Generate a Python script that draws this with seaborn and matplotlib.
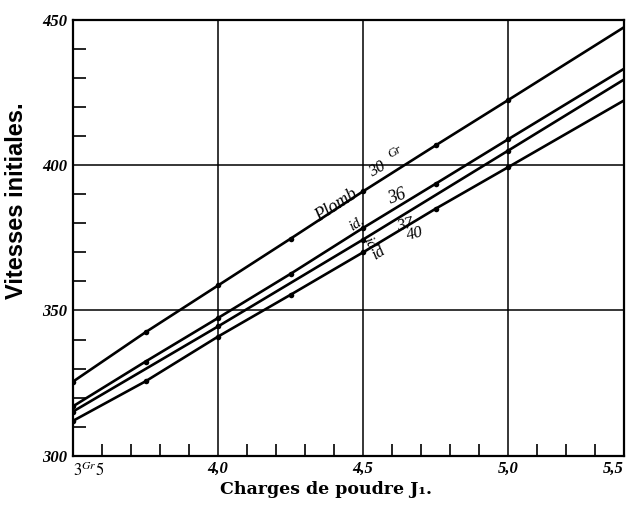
import numpy as np
import pandas as pd
import seaborn as sns
import matplotlib.pyplot as plt
from matplotlib.ticker import FixedLocator

# charges de poudre (x) et vitesses initiales
x_points = [3.5, 3.75, 4.0, 4.25, 4.5, 4.75, 5.0]
x_points_37 = [3.5, 4.0, 4.5, 5.0]
x_bord = 5.4  # le cadre s'arrete ici (graduation marquee 5,5)

v_30 = [325.5, 342.5, 358.6, 374.7, 391.0, 406.8, 422.4]
v_36 = [317.0, 332.4, 347.4, 362.6, 378.4, 393.6, 408.9]
v_37 = [315.2, 344.5, 374.4, 405.0]
v_40 = [312.0, 325.6, 341.0, 355.4, 370.0, 385.0, 399.3]
series = ["30", "36", "37", "40"]
v_bord = [447.5, 433.2, 429.5, 422.3]

x_ticks = [3.5, 4.0, 4.5, 5.0, 5.4]
x_labels = [r"$\mathit{3^{Gr}5}$", "4,0", "4,5", "5,0", "5,5"]
y_ticks = [300, 350, 400, 450]
y_labels = ["300", "350", "400", "450"]

lignes, points = [], []
for s, xs, vs, vb in zip(series, [x_points, x_points, x_points_37, x_points],
                         [v_30, v_36, v_37, v_40], v_bord):
    points.append(pd.DataFrame({"charge": xs, "vitesse": vs, "serie": s}))
    lignes.append(pd.DataFrame({"charge": xs + [x_bord], "vitesse": vs + [vb], "serie": s}))
df_lignes = pd.concat(lignes, ignore_index=True)
df_points = pd.concat(points, ignore_index=True)

sns.set_style("white")
plt.rcParams["mathtext.fontset"] = "stix"
plt.rcParams["text.color"] = "black"

fig = plt.figure(figsize=(6.38, 5.05), dpi=100)
ax = fig.add_axes([73 / 638, 1 - 455.7 / 505, 551 / 638, 435.7 / 505])

sns.lineplot(data=df_lignes, x="charge", y="vitesse", hue="serie", palette=["black"] * 4,
             linewidth=1.9, estimator=None, legend=False, ax=ax)
sns.scatterplot(data=df_points, x="charge", y="vitesse", color="black", s=16,
                linewidth=0, legend=False, ax=ax)

ax.set_xlim(3.5, x_bord)
ax.set_ylim(300, 450)
ax.set_xlabel("")
ax.set_ylabel("")

for sp in ax.spines.values():
    sp.set_color("black")
    sp.set_linewidth(1.6)

tick_font = dict(family="Liberation Serif", style="italic", weight="bold", size=12)
ax.set_xticks(x_ticks)
ax.set_xticklabels(x_labels, **tick_font)
ax.set_yticks(y_ticks)
ax.set_yticklabels(y_labels, **tick_font)
ax.tick_params(which="major", length=0, pad=4, colors="black")
ax.grid(True, color="black", linewidth=1.1)

x_minor = [round(3.5 + 0.1 * i, 1) for i in range(1, 19)]
x_minor = [v for v in x_minor if v not in (4.0, 4.5, 5.0)]
y_minor = [v for v in range(310, 450, 10) if v not in (350, 400)]
ax.xaxis.set_minor_locator(FixedLocator(x_minor))
ax.yaxis.set_minor_locator(FixedLocator(y_minor))
ax.tick_params(which="minor", direction="in", length=9, width=1.2, color="black",
               bottom=True, left=True)

ax.get_xticklabels()[0].set_ha("left")
ax.get_xticklabels()[-1].set_ha("right")

# etiquettes des courbes
txt = dict(family="Liberation Serif", style="italic", color="black", ha="center", va="center")
ax.text(4.407, 386.0, "Plomb", fontsize=13, rotation=33, **txt)
ax.text(4.548, 398.5, "30", fontsize=12, rotation=30, **txt)
ax.text(4.61, 404.6, "Gr", fontsize=9, rotation=30, **txt)
ax.text(4.617, 389.1, "36", fontsize=13, rotation=20, **txt)
ax.text(4.479, 379.8, "id.", fontsize=11, rotation=33, **txt)
ax.text(4.521, 373.2, "id", fontsize=11, rotation=-60, **txt)
ax.text(4.645, 379.4, "37", fontsize=12, rotation=15, **txt)
ax.text(4.552, 369.8, "id", fontsize=12, rotation=33, **txt)
ax.text(4.679, 376.3, "40", fontsize=12, rotation=15, **txt)

fig.text(17 / 638, 1 - 201 / 505, "Vitesses initiales.", rotation=90, ha="center",
         va="center", fontsize=17, fontweight="bold", family="Liberation Sans",
         color="black")
fig.text(326 / 638, 1 - 490 / 505, "Charges de poudre J\u2081.", ha="center", va="center",
         fontsize=12.5, fontweight="bold", family="DejaVu Serif", color="black")

fig.savefig("out.png", dpi=100)
